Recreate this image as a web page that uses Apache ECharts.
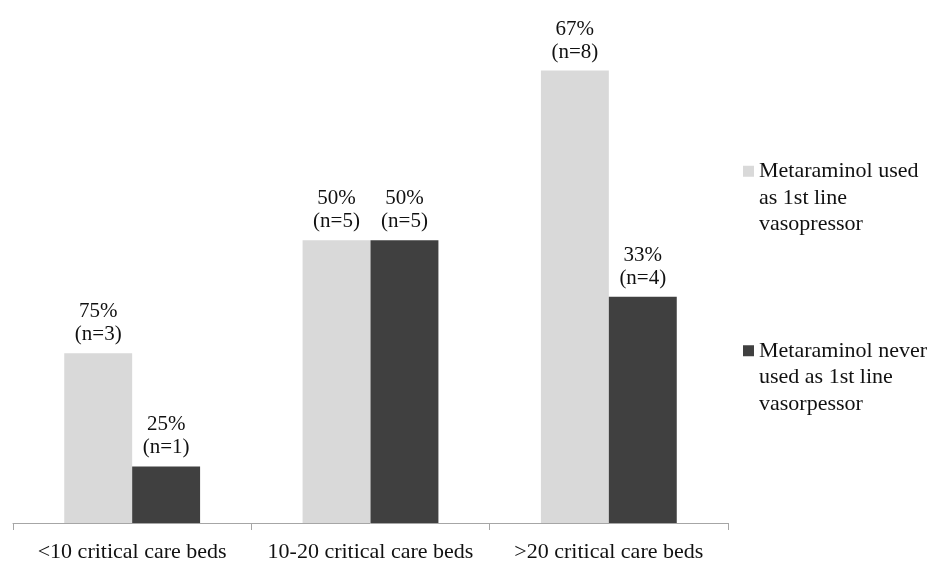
<!DOCTYPE html>
<html>
<head>
    <meta charset="utf-8">
    <title>ECharts</title>
    <script src="https://cdn.jsdelivr.net/npm/echarts@6/dist/echarts.min.js"></script>
    <style>
        html, body { margin: 0; padding: 0; background: #fff; }
    </style>
</head>
<body>
    <div id="main" style="width: 949px;height:562px;"></div>
    <script type="text/javascript">
        // data
        var categories = ['<10 critical care beds', '10-20 critical care beds', '>20 critical care beds'];
        var seriesNames = [
            'Metaraminol used\nas 1st line\nvasopressor',
            'Metaraminol never\nused as 1st line\nvasorpessor'
        ];
        var usedCounts = [3, 5, 8];
        var usedPercent = [75, 50, 67];
        var neverCounts = [1, 5, 4];
        var neverPercent = [25, 50, 33];

        var font = '"Liberation Serif", "DejaVu Serif", serif';

        function makeLabel(percents) {
            return {
                show: true,
                position: 'top',
                distance: 7,
                color: '#111',
                fontFamily: font,
                fontSize: 21,
                lineHeight: 23,
                formatter: function (p) {
                    return percents[p.dataIndex] + '%\n(n=' + p.value + ')';
                }
            };
        }

        var myChart = echarts.init(document.getElementById('main'));
        var option = {
            animation: false,
            grid: {
                left: 13,
                right: 221,
                top: 14,
                bottom: 39,
                containLabel: false,
                outerBoundsMode: 'none'
            },
            legend: {
                orient: 'vertical',
                left: 743,
                top: 105,
                padding: 0,
                itemWidth: 11,
                itemHeight: 11,
                itemGap: 47,
                icon: 'rect',
                textStyle: {
                    color: '#111',
                    fontFamily: font,
                    fontSize: 22,
                    lineHeight: 26.5
                },
                // two blank lines on top so the first text line sits level with the marker
                formatter: function (name) {
                    return '\n\n' + name;
                },
                data: seriesNames
            },
            xAxis: {
                type: 'category',
                data: categories,
                axisLine: { lineStyle: { color: '#a6a6a6', width: 1 } },
                axisTick: { show: true, length: 7, lineStyle: { color: '#a6a6a6' } },
                axisLabel: {
                    interval: 0,
                    margin: 18,
                    color: '#111',
                    fontFamily: font,
                    fontSize: 22
                }
            },
            yAxis: {
                type: 'value',
                min: 0,
                max: 9,
                show: false,
                splitLine: { show: false }
            },
            series: [{
                name: seriesNames[0],
                type: 'bar',
                data: usedCounts,
                barGap: 0,
                barCategoryGap: '43%',
                itemStyle: { color: '#d9d9d9' },
                label: makeLabel(usedPercent)
            }, {
                name: seriesNames[1],
                type: 'bar',
                data: neverCounts,
                itemStyle: { color: '#404040' },
                label: makeLabel(neverPercent)
            }]
        };
        myChart.setOption(option);
    </script>
</body>
</html>
